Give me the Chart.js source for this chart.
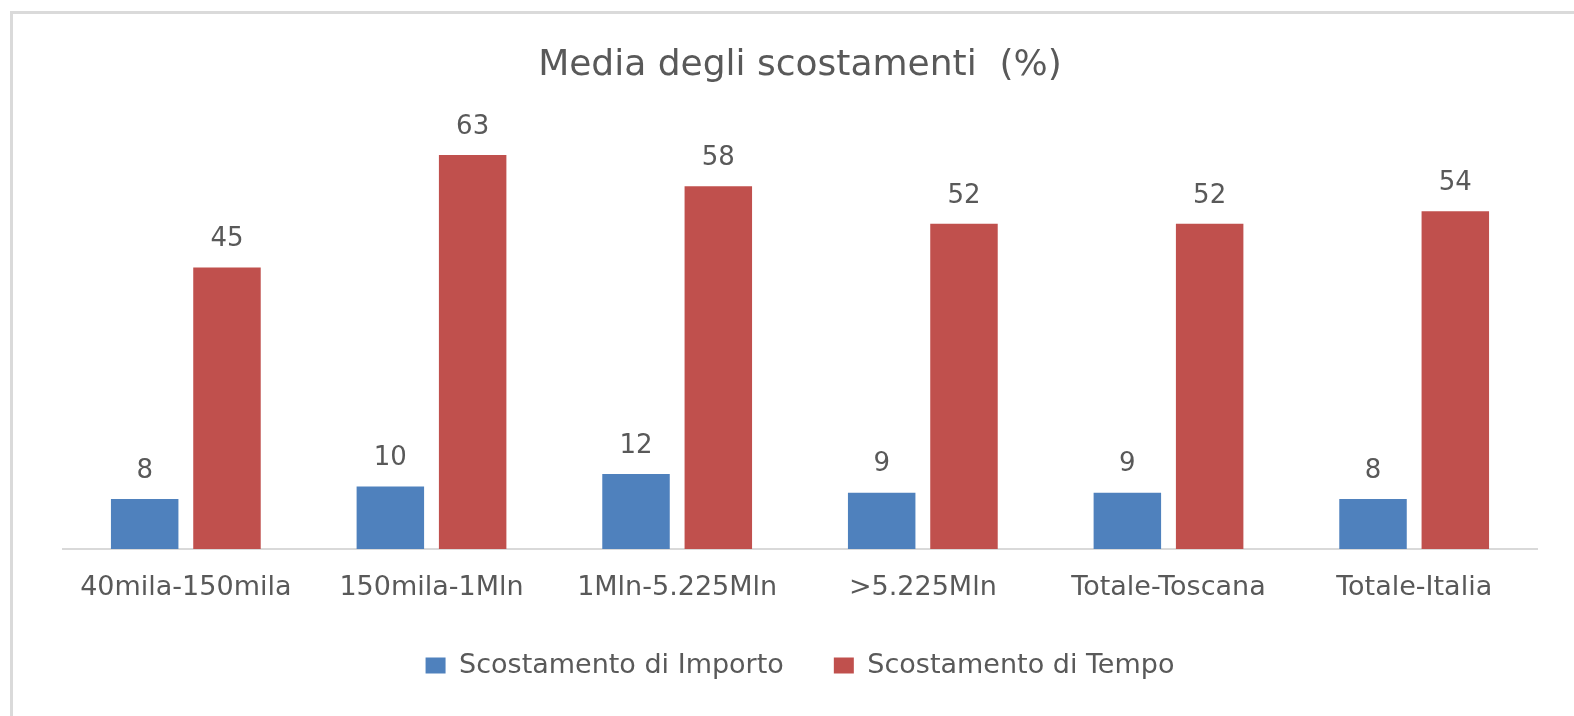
<!DOCTYPE html>
<html>
<head>
<meta charset="utf-8">
<script src="https://cdn.jsdelivr.net/npm/chart.js@4.4.1/dist/chart.umd.min.js"></script>
<style>
  html, body { margin: 0; padding: 0; background: #fff; }
  #wrap { position: relative; width: 1574px; height: 716px; }
  #frame {
    position: absolute; left: 10px; top: 11px; right: -10px; bottom: -10px;
    border-left: 3px solid #dadada; border-top: 3px solid #dadada;
    pointer-events: none;
  }
</style>
</head>
<body>
<div id="wrap">
  <canvas id="chart"></canvas>
  <div id="frame"></div>
</div>
<script>
const categories = ['40mila-150mila', '150mila-1Mln', '1Mln-5.225Mln', '>5.225Mln', 'Totale-Toscana', 'Totale-Italia'];
const importo = [8, 10, 12, 9, 9, 8];
const tempo = [45, 63, 58, 52, 52, 54];
const seriesNames = ['Scostamento di Importo', 'Scostamento di Tempo'];

const textColor = '#595959';
const fontFamily = '"DejaVu Sans", sans-serif';

// value labels above each bar
const barLabels = {
  id: 'barLabels',
  afterDatasetsDraw(chart) {
    const ctx = chart.ctx;
    ctx.save();
    ctx.fillStyle = textColor;
    ctx.font = '26px ' + fontFamily;
    ctx.textAlign = 'center';
    ctx.textBaseline = 'middle';
    chart.data.datasets.forEach((ds, i) => {
      chart.getDatasetMeta(i).data.forEach((bar, j) => {
        ctx.fillText(ds.data[j], bar.x, bar.y - 28);
      });
    });
    ctx.restore();
  }
};

new Chart(document.getElementById('chart'), {
  type: 'bar',
  data: {
    labels: categories,
    datasets: [{
      label: seriesNames[0],
      data: importo,
      backgroundColor: '#4f81bd',
      categoryPercentage: 0.67,
      barPercentage: 0.82
    }, {
      label: seriesNames[1],
      data: tempo,
      backgroundColor: '#c0504d',
      categoryPercentage: 0.67,
      barPercentage: 0.82
    }]
  },
  options: {
    responsive: true,
    maintainAspectRatio: false,
    animation: false,
    layout: { padding: { left: 63, right: 37, top: 20, bottom: 27 } },
    plugins: {
      title: {
        display: true,
        text: 'Media degli scostamenti  (%)',
        color: textColor,
        font: { family: fontFamily, size: 36, weight: 'normal' },
        padding: { top: 24, bottom: 24 }
      },
      legend: {
        position: 'bottom',
        labels: {
          color: textColor,
          font: { family: fontFamily, size: 27 },
          boxWidth: 20,
          boxHeight: 16,
          padding: 50
        }
      },
      tooltip: { enabled: false }
    },
    scales: {
      x: {
        grid: { display: false, drawTicks: false },
        border: { color: '#d9d9d9', width: 2 },
        ticks: {
          color: textColor,
          font: { family: fontFamily, size: 27 },
          padding: 23,
          maxRotation: 0,
          autoSkip: false
        },
        afterFit(scale) { scale.height = 53; }
      },
      y: {
        display: false,
        min: 0,
        max: 70
      }
    }
  },
  plugins: [barLabels]
});
</script>
</body>
</html>
